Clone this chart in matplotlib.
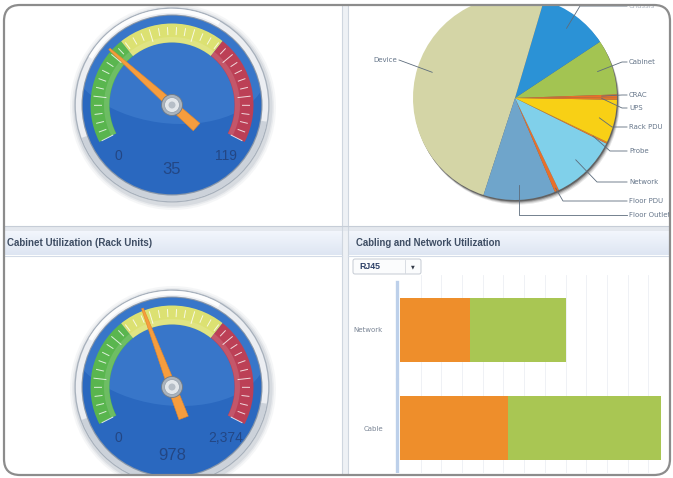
import numpy as np
import matplotlib
matplotlib.use("Agg")
import matplotlib.pyplot as plt
from matplotlib.patches import Circle, Wedge, Polygon, Rectangle, FancyBboxPatch, Ellipse

# ---------------- data ----------------
gauge1_value = 35
gauge1_max = 119
gauge2_title = "Cabinet Utilization (Rack Units)"
gauge2_value = 978
gauge2_max = 2374
gauge_zone_bounds = [0.0, 0.335, 0.664, 1.0]      # green / yellow / red zones (fraction of scale)

pie_labels = ["Cabinet", "Chassis", "Device", "Floor Outlet", "Floor PDU",
              "Network", "Probe", "Rack PDU", "UPS", "CRAC"]
pie_values = [63, 80, 357, 82, 5, 76, 2, 49, 3, 3]

bar_title = "Cabling and Network Utilization"
bar_filter = "RJ45"
bar_categories = ["Network", "Cable"]
bar_used = [34, 52]
bar_available = [46, 74]

# ---------------- styles ----------------
pie_colors = ["#a3c452", "#2b92d6", "#d4d5a6", "#6fa5cb", "#e8702a",
              "#80d0ea", "#e07b2a", "#f8d015", "#e0762a", "#e8702a"]
zone_colors = ["#5cba48", "#e6e86e", "#c43d50"]
W, H = 673, 478
SWEEP_START, SWEEP = 207, 234

fig = plt.figure(figsize=(W / 100, H / 100), dpi=100)
fig.patch.set_facecolor("white")


def px_axes(x0, y0, x1, y1, z):
    a = fig.add_axes([x0 / W, 1 - y1 / H, (x1 - x0) / W, (y1 - y0) / H], zorder=z)
    a.patch.set_alpha(0)
    return a


# ---------------- background / layout ----------------
bg = px_axes(0, 0, W, H, 0)
bg.set_xlim(0, W)
bg.set_ylim(H, 0)
bg.axis("off")

# vertical divider
bg.add_patch(Rectangle((342, 0), 6, H, fc="#eef1f5", ec="none"))
bg.plot([342, 342], [0, H], color="#cfd6df", lw=0.8)
bg.plot([348, 348], [0, H], color="#cfd6df", lw=0.8)
# horizontal divider
bg.add_patch(Rectangle((0, 226), W, 5, fc="#e4e8ee", ec="none"))
bg.plot([0, W], [226, 226], color="#c6cdd7", lw=0.8)
# header bands
grad = np.linspace(0, 1, 30)[:, None, None]
top_c = np.array([0.95, 0.965, 0.99])
bot_c = np.array([0.87, 0.90, 0.95])
band = (top_c * (1 - grad) + bot_c * grad)
for x0, x1 in [(0, 342), (348, W)]:
    bg.imshow(band, extent=(x0, x1, 255, 231), aspect="auto", origin="upper", zorder=1)
    bg.plot([x0, x1], [255.5, 255.5], color="#d3dbe7", lw=0.8, zorder=2)
bg.text(7, 243, gauge2_title, fontsize=7, fontweight="bold", color="#3e4d63",
        family="Liberation Sans", va="center", ha="left", zorder=3)
bg.text(356, 243, bar_title, fontsize=6.9, fontweight="bold", color="#3e4d63",
        family="Liberation Sans", va="center", ha="left", zorder=3)

# dropdown
bg.add_patch(FancyBboxPatch((353, 259), 68, 15, boxstyle="round,pad=0,rounding_size=2",
                            fc="#fbfcfd", ec="#c4cad3", lw=0.7, zorder=3))
bg.plot([405, 405], [260, 273], color="#d3d8df", lw=0.6, zorder=4)
bg.text(359, 266.5, bar_filter, fontsize=6.3, color="#2e4168", va="center", ha="left",
        family="Liberation Sans", fontweight="bold", zorder=4)
bg.text(413, 266.5, "\u25BC", fontsize=3.5, color="#333a48", va="center", ha="center", zorder=4)


# ---------------- gauges ----------------
def theta(frac):
    return SWEEP_START - SWEEP * frac


def draw_gauge(cx, cy, value, vmax, val_dy):
    R = 112
    ax = px_axes(cx - R, cy - R, cx + R, cy + R, 2)
    ax.set_xlim(-R, R)
    ax.set_ylim(-R, R)
    ax.axis("off")
    for r, a in [(103, 0.08), (101, 0.12), (99.5, 0.18)]:
        ax.add_patch(Circle((1, -2), r, fc="#8c97a5", ec="none", alpha=a))
    ax.add_patch(Circle((0, 0), 97.5, fc="#a8b1bc", ec="none"))
    ax.add_patch(Circle((0, 0), 96.2, fc="#eceef2", ec="none"))
    ax.add_patch(Wedge((0, 0), 96.2, 200, 350, width=7, fc="#bfc7d0", ec="none", alpha=0.7))
    ax.add_patch(Wedge((0, 0), 96.2, 60, 150, width=4, fc="#ffffff", ec="none", alpha=0.9))
    ax.add_patch(Circle((0, 0), 90.5, fc="#8896a8", ec="none"))
    face = Circle((0, 0), 89.3, fc="#2a68bf", ec="none")
    ax.add_patch(face)
    hl = Ellipse((-5, 42), 200, 120, angle=-8, fc="#4685d4", ec="none", alpha=0.5)
    ax.add_patch(hl)
    hl.set_clip_path(face)
    # colour zones
    for i, col in enumerate(zone_colors):
        t1 = theta(gauge_zone_bounds[i + 1])
        t2 = theta(gauge_zone_bounds[i])
        ax.add_patch(Wedge((0, 0), 81.5, t1, t2, width=19, fc=col, ec="none", alpha=0.95))
        ax.add_patch(Wedge((0, 0), 68, t1, t2, width=5, fc="white", ec="none", alpha=0.12))
    # ticks
    for k, f in enumerate(np.linspace(0, 1, 36)):
        a = np.radians(theta(f))
        r1, r2 = (66, 79) if k % 5 == 0 else (70, 78)
        ax.plot([r1 * np.cos(a), r2 * np.cos(a)], [r1 * np.sin(a), r2 * np.sin(a)],
                color="white", lw=0.7, alpha=0.8, solid_capstyle="butt")
    # needle
    a = np.radians(theta(value / vmax))
    u = np.array([np.cos(a), np.sin(a)])
    n = np.array([-np.sin(a), np.cos(a)])
    pts = [84 * u + 1.0 * n, 0 * u + 4.2 * n, -33 * u + 5.0 * n,
           -33 * u - 5.0 * n, 0 * u - 4.2 * n, 84 * u - 1.0 * n]
    ax.add_patch(Polygon(pts, closed=True, fc="#f69d3e", ec="#e3862a", lw=0.4))
    # hub
    ax.add_patch(Circle((0, 0), 10.5, fc="#aab3bd", ec="#6f7a86", lw=0.6))
    ax.add_patch(Circle((0, 0), 7.5, fc="#e3e7eb", ec="#9aa4af", lw=0.6))
    ax.add_patch(Circle((0, 0), 3.5, fc="#b6bec7", ec="none"))
    # labels
    ax.text(-54, -51, "0", fontsize=10, color="#22417a", ha="center", va="center",
            family="Liberation Sans", alpha=0.85)
    ax.text(54, -51, f"{vmax:,}", fontsize=10, color="#22417a", ha="center", va="center",
            family="Liberation Sans", alpha=0.85)
    ax.text(0, val_dy, f"{value:,}", fontsize=12, color="#22417a", ha="center", va="center",
            family="Liberation Sans", alpha=0.85)


draw_gauge(172, 105, gauge1_value, gauge1_max, -65)
draw_gauge(172, 387, gauge2_value, gauge2_max, -68)

# ---------------- pie ----------------
PCX, PCY, PR = 515, 98, 102
m = 8
axp = px_axes(PCX - PR - m, PCY - PR - m, PCX + PR + m, PCY + PR + m, 2)
for d, al in [(0.045, 0.10), (0.035, 0.15), (0.025, 0.25), (0.015, 0.4)]:
    axp.add_patch(Circle((d * 0.6, -d), 1.0, fc="#111111", ec="none", alpha=al, zorder=0))
wedges, _ = axp.pie(pie_values, colors=pie_colors, startangle=2, counterclock=True,
                    radius=1, wedgeprops=dict(linewidth=0))
lim = 1 + m / PR
axp.set_xlim(-lim, lim)
axp.set_ylim(-lim, lim)
axp.axis("off")

# ---------------- bar chart ----------------
axb = px_axes(394, 275, 668, 473, 2)
ypos = np.arange(len(bar_categories))
axb.barh(ypos, bar_used, height=0.65, color="#ee8e2b", zorder=2)
axb.barh(ypos, bar_available, left=bar_used, height=0.65, color="#a9c653", zorder=2)
axb.set_xlim(-2.9, 129.5)
axb.set_ylim(1.459, -0.561)
axb.set_xticks(np.arange(10, 130, 10))
axb.xaxis.grid(True, color="#eceff4", lw=0.6)
axb.set_axisbelow(True)
axb.tick_params(axis="x", length=0, labelbottom=False)
axb.set_yticks(ypos)
axb.set_yticklabels(bar_categories, fontsize=5, color="#7a8595")
axb.tick_params(axis="y", length=0, pad=8)
for s in axb.spines.values():
    s.set_visible(False)
axb.axvline(-1.5, ymin=0.485, ymax=0.965, color="#bdd0ea", lw=2.4, zorder=3)
axb.axvline(-1.5, ymin=0.0, ymax=0.47, color="#bdd0ea", lw=2.4, zorder=3)

# ---------------- overlay: pie labels, masks, frame ----------------
ov = px_axes(0, 0, W, H, 5)
ov.set_xlim(0, W)
ov.set_ylim(H, 0)
ov.axis("off")

label_y = {"Cabinet": 62, "Chassis": 6, "Device": 60, "Floor Outlet": 215, "Floor PDU": 201,
           "Network": 182, "Probe": 151, "Rack PDU": 127, "UPS": 108, "CRAC": 95}
elbow_x = {"Cabinet": 622, "Chassis": 580, "Floor Outlet": None, "Floor PDU": 563,
           "Network": 597, "Probe": 610, "Rack PDU": 612, "UPS": 622, "CRAC": 622}
for w, lab in zip(wedges, pie_labels):
    mid = np.radians((w.theta1 + w.theta2) / 2)
    r = 0.97 if lab == "Floor PDU" else 0.85
    ax_ = PCX + r * PR * np.cos(mid)
    ay_ = PCY - r * PR * np.sin(mid)
    ly = label_y[lab]
    lc = "#5d6c7c"
    if lab == "Device":
        ov.plot([ax_, 399], [ay_, ly], color=lc, lw=0.6)
        ov.text(397, ly, lab, fontsize=5, color="#66768a", ha="right", va="center")
    else:
        ex = elbow_x[lab] if elbow_x[lab] is not None else ax_
        ov.plot([ax_, ex, 627], [ay_, ly, ly], color=lc, lw=0.6)
        ov.text(629, ly, lab, fontsize=5, color="#66768a", ha="left", va="center",
                alpha=0.5 if lab == "Chassis" else 1)

# white masks outside frame
for rect in [(0, 0, W, 5), (0, 475, W, 3), (0, 0, 4, H), (670, 0, 3, H)]:
    ov.add_patch(Rectangle(rect[:2], rect[2], rect[3], fc="white", ec="none", zorder=8))
ov.add_patch(FancyBboxPatch((4, 5), 666, 470, boxstyle="round,pad=0,rounding_size=16",
                            fc="none", ec="#8c8c8c", lw=1.6, zorder=9))

fig.savefig("out.png", dpi=100, facecolor="white")
